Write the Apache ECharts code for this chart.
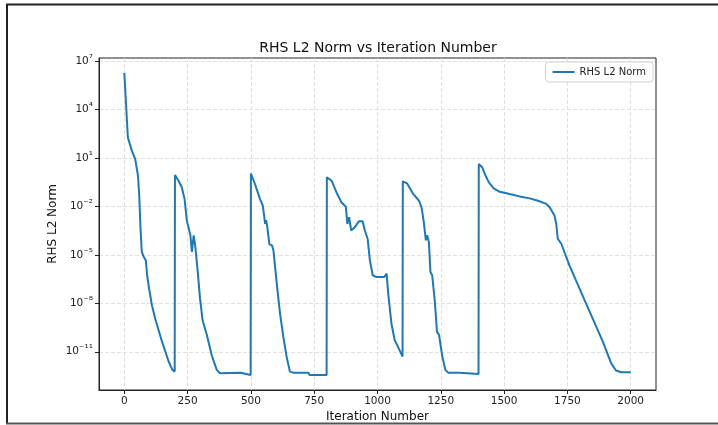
<!DOCTYPE html>
<html>
<head>
<meta charset="utf-8">
<title>RHS L2 Norm vs Iteration Number</title>
<script src="https://cdn.jsdelivr.net/npm/echarts@6/dist/echarts.min.js"></script>
<style>
  html, body { margin: 0; padding: 0; background: #fff; }
  #main { width: 718px; height: 425px; }
</style>
</head>
<body>
<div id="main"></div>
<script>
// iteration numbers and RHS L2 norm
const iterations = [
  0, 14, 30, 43, 54, 59, 64, 69, 76, 80, 85, 90, 98, 109, 122, 149, 175, 190, 199,
  200, 214, 227, 238, 247, 253, 261, 267, 274, 280, 290, 299, 309, 326, 345, 365, 378, 420, 460, 465, 499,
  500, 516, 536, 547, 552, 556, 560, 565, 573, 583, 589, 602, 615, 628, 641, 654, 667, 727, 732, 799,
  800, 819, 838, 858, 875, 881, 888, 896, 910, 927, 941, 950, 961, 970, 981, 996, 1027, 1036, 1042, 1055, 1068, 1081, 1099,
  1100, 1117, 1141, 1164, 1174, 1183, 1191, 1196, 1203, 1209, 1216, 1226, 1235, 1243, 1256, 1268, 1279, 1325, 1330, 1399,
  1400, 1414, 1427, 1440, 1459, 1483, 1522, 1561, 1601, 1634, 1667, 1680, 1699, 1706, 1712, 1726, 1758, 1824, 1890, 1923, 1942, 1962, 2000
]
const rhsNorm = [
  1.8e6, 1.8e2, 2.7e1, 8.3, 7.8e-1, 4.6e-2, 4.1e-4, 1.5e-5, 7.9e-6, 7.2e-6, 4.5e-6, 5.4e-7, 7.9e-8, 7.6e-9, 1.1e-9, 4.2e-11, 2.5e-12, 7.6e-13, 5.9e-13,
  8.5e-1, 3.8e-1, 1.5e-1, 2.8e-2, 1.3e-3, 1.0e-3, 1.6e-4, 1.5e-5, 1.6e-4, 3.8e-5, 8.7e-7, 2.0e-8, 9.1e-10, 1.1e-10, 6.3e-12, 7.6e-13, 4.7e-13, 4.9e-13, 5.0e-13, 3.8e-13, 3.6e-13,
  1.07, 2.4e-1, 2.8e-2, 1.1e-2, 2.7e-3, 8.1e-4, 1.4e-3, 5.0e-4, 4.4e-5, 3.8e-5, 1.9e-5, 1.7e-7, 2.3e-9, 8.5e-11, 5.0e-12, 5.9e-13, 5.1e-13, 5.0e-13, 3.7e-13, 3.6e-13,
  6.2e-1, 3.8e-1, 7.2e-2, 1.7e-2, 9.5e-3, 8.1e-4, 2.1e-3, 3.2e-4, 5.0e-4, 1.2e-3, 1.2e-3, 3.2e-4, 9.8e-5, 4.5e-6, 5.4e-7, 4.2e-7, 4.2e-7, 6.8e-7, 4.4e-8, 5.6e-10, 5.2e-11, 2.0e-11, 5.0e-12,
  3.5e-1, 2.6e-1, 5.8e-2, 2.2e-2, 8.7e-3, 1.0e-3, 7.8e-5, 1.6e-4, 6.0e-5, 8.7e-7, 5.4e-7, 1.5e-8, 1.7e-10, 1.1e-10, 5.0e-12, 7.6e-13, 5.1e-13, 5.0e-13, 4.2e-13, 4.2e-13,
  4.1, 2.5, 7.8e-1, 3.0e-1, 1.3e-1, 7.9e-2, 5.8e-2, 4.1e-2, 3.1e-2, 2.2e-2, 1.4e-2, 8.7e-3, 2.7e-3, 8.1e-4, 9.8e-5, 4.8e-5, 2.2e-6, 9.5e-9, 4.2e-11, 1.9e-12, 6.9e-13, 5.4e-13, 5.4e-13
]
const xTicks = [0, 250, 500, 750, 1000, 1250, 1500, 1750, 2000]
const yTicks = [1e-11, 1e-8, 1e-5, 1e-2, 1e1, 1e4, 1e7]

const FONT = 'DejaVu Sans'
const SUP = { '-': '\u207B', '0': '\u2070', '1': '\u00B9', '2': '\u00B2', '3': '\u00B3', '4': '\u2074',
  '5': '\u2075', '6': '\u2076', '7': '\u2077', '8': '\u2078', '9': '\u2079' }

function powLabel(v) {
  const e = String(Math.round(Math.log10(v)))
  return '{b|10}{s|' + e.split('').map((c) => SUP[c] || c).join('') + '}'
}

const chart = echarts.init(document.getElementById('main'), null, { renderer: 'canvas' })

const gridLine = { show: true, lineStyle: { color: '#d9d9d9', type: [4, 2], width: 0.8 } }

const option = {
  backgroundColor: '#fff',
  animation: false,
  textStyle: { fontFamily: FONT },
  title: {
    text: 'RHS L2 Norm vs Iteration Number',
    left: 378,
    top: 41,
    padding: 0,
    textAlign: 'center',
    textStyle: { fontFamily: FONT, fontSize: 14, fontWeight: 'normal', color: '#111' }
  },
  legend: {
    right: 65,
    top: 62,
    data: ['RHS L2 Norm'],
    icon: 'rect',
    itemWidth: 22,
    itemHeight: 2,
    itemGap: 6,
    padding: [5, 7, 5, 7],
    borderColor: '#d0d0d0',
    borderWidth: 1,
    borderRadius: 3,
    backgroundColor: 'rgba(255,255,255,0.8)',
    textStyle: { fontFamily: FONT, fontSize: 10, color: '#222' }
  },
  grid: {
    left: 99,
    right: 62,
    top: 58,
    bottom: 35,
    show: true,
    borderColor: '#222',
    borderWidth: 1,
    outerBoundsMode: 'none',
    containLabel: false
  },
  xAxis: {
    type: 'value',
    min: -100,
    max: 2100,
    name: 'Iteration Number',
    nameLocation: 'middle',
    nameGap: 21,
    nameMoveOverlap: false,
    nameTextStyle: { fontFamily: FONT, fontSize: 12, color: '#111' },
    axisLine: { show: true, onZero: false, lineStyle: { color: '#222', width: 1 } },
    axisTick: { show: true, length: 4, lineStyle: { color: '#222' }, customValues: xTicks },
    axisLabel: {
      fontFamily: FONT, fontSize: 10.5, color: '#222', margin: 6,
      customValues: xTicks,
      formatter: (v) => String(v)
    },
    splitLine: gridLine
  },
  yAxis: {
    type: 'log',
    min: 4.3e-14,
    max: 1.5e7,
    name: 'RHS L2 Norm',
    nameLocation: 'middle',
    nameGap: 40,
    nameMoveOverlap: false,
    nameTextStyle: { fontFamily: FONT, fontSize: 12, color: '#111' },
    axisLine: { show: true, onZero: false, lineStyle: { color: '#222', width: 1 } },
    axisTick: { show: true, length: 4, lineStyle: { color: '#222' }, customValues: yTicks },
    axisLabel: {
      fontFamily: FONT,
      color: '#222',
      margin: 6,
      customValues: yTicks,
      formatter: powLabel,
      rich: {
        b: { fontFamily: FONT, fontSize: 10.5, color: '#222' },
        s: { fontFamily: FONT, fontSize: 10.5, color: '#222', verticalAlign: 'bottom', padding: [0, 0, 4, 0] }
      }
    },
    splitLine: gridLine
  },
  graphic: [
    // dark frame of the screenshot
    { type: 'line', shape: { x1: 6, y1: 4.5, x2: 718, y2: 4.5 }, style: { stroke: '#222', lineWidth: 2 }, silent: true },
    { type: 'line', shape: { x1: 7, y1: 4, x2: 7, y2: 424 }, style: { stroke: '#222', lineWidth: 2 }, silent: true },
    { type: 'line', shape: { x1: 6, y1: 423.5, x2: 718, y2: 423.5 }, style: { stroke: '#555', lineWidth: 2 }, silent: true }
  ],
  series: [
    {
      name: 'RHS L2 Norm',
      type: 'line',
      data: iterations.map((it, i) => [it, rhsNorm[i]]),
      showSymbol: false,
      symbol: 'none',
      lineStyle: { color: '#1f77b4', width: 2 },
      itemStyle: { color: '#1f77b4' },
      z: 5
    }
  ]
}

chart.setOption(option)
</script>
</body>
</html>
